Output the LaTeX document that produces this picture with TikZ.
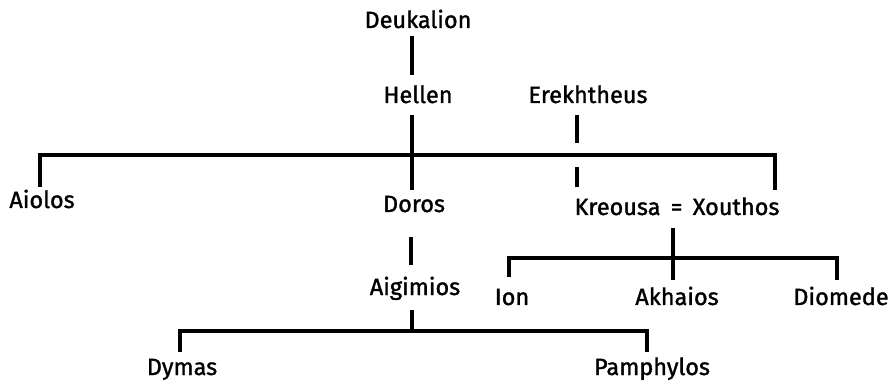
\documentclass[tikz,border=0pt]{standalone}
\usepackage{fontspec}
\setmainfont{Fira Sans}[RawFeature={embolden=1.3}]
\begin{document}
\begin{tikzpicture}[x=1pt,y=-1pt,
  person/.style={anchor=base,inner sep=0pt,font=\fontsize{23.5}{26}\selectfont},
  line/.style={line width=3.6pt,line join=miter}]
\useasboundingbox (0,0) rectangle (892,382);
% people
\node[person] (deuk) at (418,28) {Deukalion};
\node[person] (hellen) at (418,103) {Hellen};
\node[person] (erek) at (588,103) {Erekhtheus};
\node[person] (aiolos) at (42,208) {Aiolos};
\node[person] (doros) at (414,212) {Doros};
\node[person] (kx) at (677,215) {Kreousa\hspace{4pt} = \hspace{4pt}Xouthos};
\node[person] (aigim) at (415,295) {Aigimios};
\node[person] (ion) at (512,305) {Ion};
\node[person] (akh) at (677,305) {Akhaios};
\node[person] (diom) at (841,305) {Diomede};
\node[person] (dymas) at (182,375) {Dymas};
\node[person] (pamph) at (652,375) {Pamphylos};
% junction points
\coordinate (d1) at (412,36);  \coordinate (d2) at (412,75);
\coordinate (h1) at (412,115); \coordinate (h2) at (412,190);
\coordinate (aiA) at (40,187); \coordinate (aiB) at (40,155);
\coordinate (kxA) at (775,155); \coordinate (kxB) at (775,190);
\coordinate (e1) at (577,115); \coordinate (e2) at (577,143);
\coordinate (e3) at (577,167); \coordinate (e4) at (577,187);
\coordinate (o1) at (411,237); \coordinate (o2) at (411,265);
\coordinate (g1) at (412,310); \coordinate (g2) at (412,331);
\coordinate (dyA) at (180,352); \coordinate (dyB) at (180,331);
\coordinate (paA) at (647,331); \coordinate (paB) at (647,352);
\coordinate (x1) at (673,228); \coordinate (x2) at (673,280);
\coordinate (ioA) at (509,277); \coordinate (ioB) at (509,258);
\coordinate (diA) at (837,258); \coordinate (diB) at (837,280);
% descent lines
\draw[line] (d1) -- (d2);
\draw[line] (h1) -- (h2);
\draw[line] (aiA) -- (aiB) -- (kxA) -- (kxB);
\draw[line] (e1) -- (e2);
\draw[line] (e3) -- (e4);
\draw[line] (o1) -- (o2);
\draw[line] (g1) -- (g2);
\draw[line] (dyA) -- (dyB) -- (paA) -- (paB);
\draw[line] (x1) -- (x2);
\draw[line] (ioA) -- (ioB) -- (diA) -- (diB);
\end{tikzpicture}
\end{document}
